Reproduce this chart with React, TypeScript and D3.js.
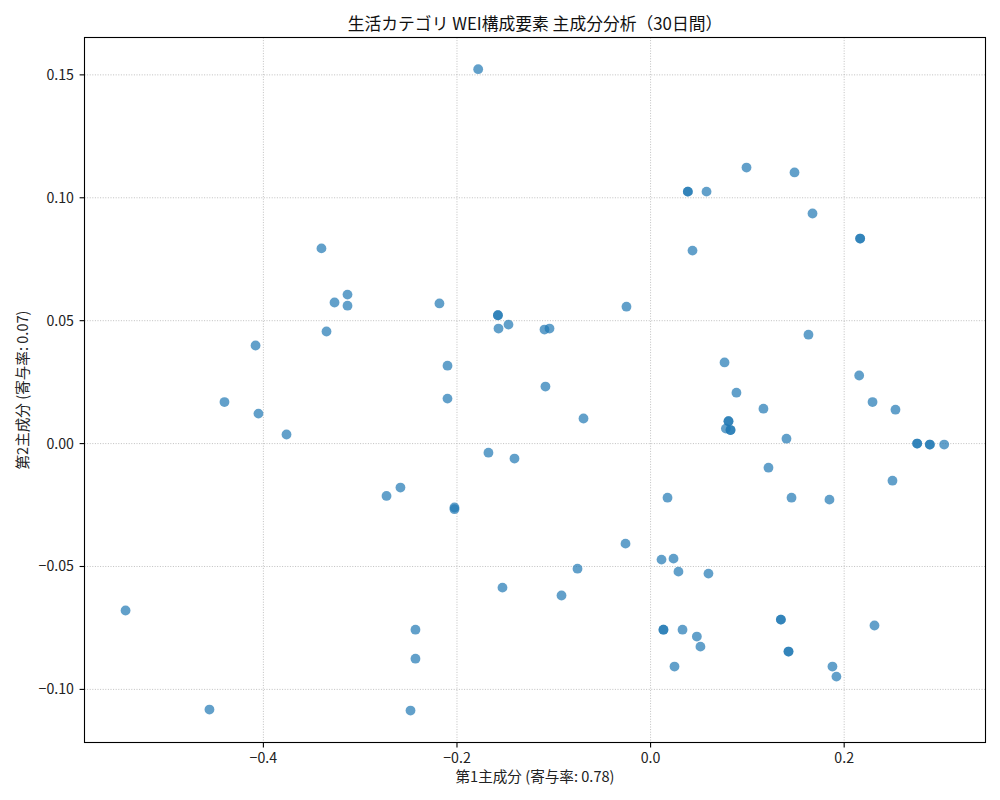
import React from "react";
import * as d3 from "d3";

const TITLE = "生活カテゴリ WEI構成要素 主成分分析（30日間）";
const X_LABEL = "第1主成分 (寄与率: 0.78)";
const Y_LABEL = "第2主成分 (寄与率: 0.07)";

const pc1: number[] = [
  -0.1781, -0.3400, -0.3265, -0.3131, -0.3131, -0.2181, -0.3348, -0.4081, -0.2098, -0.1577,
  -0.1577, -0.1571, -0.1468, -0.1096, -0.1044, -0.0249, 0.0385, 0.0385, 0.0578, 0.0991,
  0.1487, 0.1673, 0.2165, 0.2165, 0.0433, 0.1631, 0.0764, 0.0887, 0.2155, 0.2293,
  0.2530, 0.1166, -0.0693, 0.0805, 0.0805, 0.0778, 0.0826, 0.0826, 0.1404, 0.2754,
  0.2754, 0.2885, 0.2885, 0.3033, -0.1406, 0.1218, 0.2499, 0.0175, 0.1456, 0.1848,
  -0.0259, 0.0113, 0.0237, 0.0288, 0.0598, -0.0755, -0.1530, -0.0920, 0.1346, 0.1346,
  0.2313, 0.0133, 0.0133, 0.0330, 0.0478, 0.0515, 0.1425, 0.1425, 0.0247, 0.1879,
  0.1920, -0.4402, -0.4051, -0.3761, -0.2098, -0.1675, -0.2728, -0.2584, -0.2026, -0.2026,
  -0.5424, -0.2429, -0.2429, -0.4557, -0.2480, -0.1086,
];

const pc2: number[] = [
  0.1523, 0.0794, 0.0574, 0.0606, 0.0561, 0.0570, 0.0456, 0.0399, 0.0317, 0.0522,
  0.0522, 0.0468, 0.0484, 0.0464, 0.0468, 0.0557, 0.1025, 0.1025, 0.1025, 0.1123,
  0.1103, 0.0936, 0.0834, 0.0834, 0.0785, 0.0443, 0.0330, 0.0207, 0.0277, 0.0169,
  0.0138, 0.0142, 0.0102, 0.0091, 0.0091, 0.0061, 0.0055, 0.0055, 0.0020, 0.0000,
  0.0000, -0.0004, -0.0004, -0.0004, -0.0061, -0.0098, -0.0151, -0.0220, -0.0220, -0.0228,
  -0.0407, -0.0472, -0.0468, -0.0521, -0.0529, -0.0509, -0.0586, -0.0618, -0.0716, -0.0716,
  -0.0740, -0.0757, -0.0757, -0.0757, -0.0785, -0.0826, -0.0846, -0.0846, -0.0907, -0.0907,
  -0.0948, 0.0169, 0.0122, 0.0037, 0.0183, -0.0037, -0.0213, -0.0179, -0.0260, -0.0267,
  -0.0679, -0.0757, -0.0875, -0.1082, -0.1086, 0.0232,
];

const xTicks: number[] = [-0.4, -0.2, 0.0, 0.2];
const yTicks: number[] = [-0.1, -0.05, 0.0, 0.05, 0.1, 0.15];

const W = 1000;
const H = 800;
const M = { left: 84.5, right: 985.5, top: 37.5, bottom: 742.5 };
const FONT = "'Noto Sans CJK JP', 'Noto Sans', sans-serif";

const fmt = (v: number, d: number) => {
  const s = Math.abs(v).toFixed(d);
  return v < -1e-9 ? "\u2212" + s : s;
};

export default function App() {
  const x = d3.scaleLinear().domain([-0.5848, 0.346]).range([M.left, M.right]);
  const y = d3.scaleLinear().domain([-0.1216, 0.1652]).range([M.bottom, M.top]);
  const pts = pc1.map((v, i) => ({ x: v, y: pc2[i] }));
  const cx = (M.left + M.right) / 2;
  const cy = (M.top + M.bottom) / 2;

  return (
    <svg
      width={W}
      height={H}
      style={{ position: "absolute", left: 0, top: 0, background: "#fff" }}
      fontFamily={FONT}
    >
      <rect x={0} y={0} width={W} height={H} fill="#fff" />
      {/* grid */}
      <g stroke="#b0b0b0" strokeWidth={0.8} strokeDasharray="1,1.6">
        {xTicks.map((t) => (
          <line key={"gx" + t} x1={x(t)} x2={x(t)} y1={M.top} y2={M.bottom} />
        ))}
        {yTicks.map((t) => (
          <line key={"gy" + t} x1={M.left} x2={M.right} y1={y(t)} y2={y(t)} />
        ))}
      </g>
      {/* points */}
      <g fill="#1f77b4" fillOpacity={0.7}>
        {pts.map((p, i) => (
          <circle key={i} cx={x(p.x)} cy={y(p.y)} r={4.9} />
        ))}
      </g>
      {/* spines */}
      <rect
        x={M.left}
        y={M.top}
        width={M.right - M.left}
        height={M.bottom - M.top}
        fill="none"
        stroke="#000"
        strokeWidth={1.1}
      />
      {/* ticks */}
      <g fontSize={14.2} fill="#222">
        {xTicks.map((t) => (
          <g key={"tx" + t}>
            <line x1={x(t)} x2={x(t)} y1={M.bottom} y2={M.bottom + 4.9} stroke="#000" strokeWidth={1.1} />
            <text x={x(t)} y={M.bottom + 20} textAnchor="middle">
              {fmt(t, 1)}
            </text>
          </g>
        ))}
        {yTicks.map((t) => (
          <g key={"ty" + t}>
            <line x1={M.left - 4.9} x2={M.left} y1={y(t)} y2={y(t)} stroke="#000" strokeWidth={1.1} />
            <text x={M.left - 10.5} y={y(t)} dy="0.35em" textAnchor="end">
              {fmt(t, 2)}
            </text>
          </g>
        ))}
      </g>
      {/* labels */}
      <text x={cx} y={30} textAnchor="middle" fontSize={16.8} fill="#111">
        {TITLE}
      </text>
      <text x={cx} y={782} textAnchor="middle" fontSize={14.6} fill="#222">
        {X_LABEL}
      </text>
      <text
        transform={`translate(27.5,${cy}) rotate(-90)`}
        textAnchor="middle"
        fontSize={14.6}
        fill="#222"
      >
        {Y_LABEL}
      </text>
    </svg>
  );
}
